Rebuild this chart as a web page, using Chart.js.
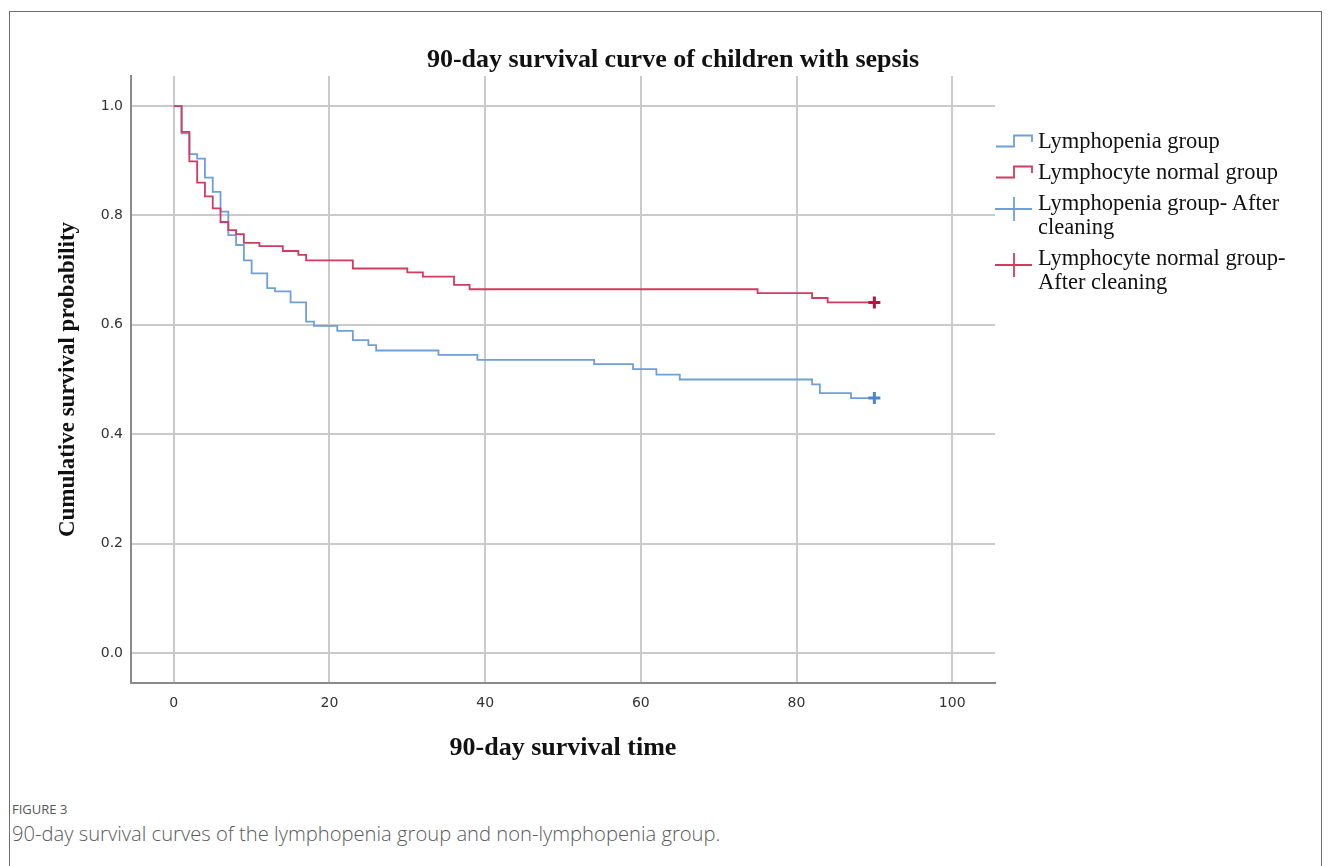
<!DOCTYPE html>
<html>
<head>
<meta charset="utf-8">
<script src="https://cdn.jsdelivr.net/npm/chart.js@4.4.1/dist/chart.umd.min.js"></script>
<style>
  html, body { margin: 0; padding: 0; background: #fff; }
  body { width: 1331px; height: 866px; position: relative; overflow: hidden; }
  .frame { position: absolute; left: 9px; top: 11px; width: 1313px; height: 900px; border: 1px solid #6e6e6e; box-sizing: border-box; }
  #wrap { position: absolute; left: 0; top: 0; width: 1331px; height: 790px; }
  .title { position: absolute; left: 323px; width: 700px; top: 44px; text-align: center;
           font: bold 26px "Liberation Serif", serif; color: #111; }
  .legend { position: absolute; left: 995px; top: 0; font: 22.5px "Liberation Serif", serif; color: #111; }
  .item { position: absolute; left: 0; white-space: nowrap; line-height: 24px; }
  .item svg { position: absolute; left: 0; }
  .item span { position: absolute; left: 43px; }
  .fig { position: absolute; left: 12px; top: 800px; font: 13px "Open Sans", sans-serif; color: #555; }
  .cap { position: absolute; left: 12px; top: 819px; font: 300 20.2px "Open Sans", sans-serif; color: #5a5a5a; }
</style>
</head>
<body>
<div class="frame"></div>
<div id="wrap"><canvas id="km"></canvas></div>
<div class="title">90-day survival curve of children with sepsis</div>
<div class="legend" id="legend"></div>
<div class="fig">FIGURE 3</div>
<div class="cap">90-day survival curves of the lymphopenia group and non-lymphopenia group.</div>
<script>
const lymphopeniaTimes = [0, 1, 2, 3, 4, 5, 6, 7, 8, 9, 10, 12, 13, 15, 17, 18, 21, 23, 25, 26, 34, 39, 54, 59, 62, 65, 82, 83, 87, 90];
const lymphopeniaSurv = [1.0, 0.950, 0.912, 0.904, 0.869, 0.843, 0.807, 0.764, 0.746, 0.718, 0.694, 0.667, 0.661, 0.641, 0.606, 0.598, 0.589, 0.572, 0.563, 0.553, 0.545, 0.536, 0.528, 0.519, 0.509, 0.500, 0.491, 0.475, 0.466, 0.466];

const normalTimes = [0, 1, 2, 3, 4, 5, 6, 7, 8, 9, 11, 14, 16, 17, 23, 30, 32, 36, 38, 75, 82, 84, 90];
const normalSurv = [1.0, 0.953, 0.899, 0.860, 0.835, 0.813, 0.788, 0.773, 0.766, 0.750, 0.744, 0.735, 0.728, 0.718, 0.703, 0.696, 0.688, 0.673, 0.665, 0.658, 0.649, 0.641, 0.641];

// censored points at end of follow-up
const censorTime = [90];
const lymphopeniaCensor = [0.466];
const normalCensor = [0.641];

const legendLabels = [
    ['Lymphopenia group'],
    ['Lymphocyte normal group'],
    ['Lymphopenia group- After', 'cleaning'],
    ['Lymphocyte normal group-', 'After cleaning']
];

const colors = {
    blue: '#6d9fdb',
    red: '#d23a5f',
    blueMark: '#4a86c9',
    redMark: '#b8123f',
    grid: '#cacaca',
    axis: '#8a8a8a',
    tick: '#333333'
};

const toPoints = (xs, ys) => xs.map((x, i) => ({ x: x, y: ys[i] }));

// html legend with the step / cross icons
const stepIcon = (c, top) => `<svg style="top:${top}px" width="40" height="20" viewBox="0 0 40 20"><path d="M1 15.5 H19 V4.5 H37 V11" fill="none" stroke="${c}" stroke-width="1.8"/></svg>`;
const crossIcon = (c, top) => `<svg style="top:${top}px" width="40" height="26" viewBox="0 0 40 26"><path d="M0 13 H37 M19 1 V25" fill="none" stroke="${c}" stroke-width="1.8"/></svg>`;
const legendRows = [
    { top: 129, icon: stepIcon(colors.blue, 2) },
    { top: 160, icon: stepIcon(colors.red, 2) },
    { top: 191, icon: crossIcon(colors.blue, 5) },
    { top: 246, icon: crossIcon(colors.red, 6) }
];
const legendEl = document.getElementById('legend');
legendRows.forEach((row, i) => {
    const div = document.createElement('div');
    div.className = 'item';
    div.style.top = row.top + 'px';
    div.innerHTML = row.icon + `<span>${legendLabels[i].join('<br>')}</span>`;
    legendEl.appendChild(div);
});

const ctx = document.getElementById('km').getContext('2d');
new Chart(ctx, {
    type: 'line',
    data: {
        datasets: [
            {
                label: 'Lymphocyte normal group- After cleaning',
                data: toPoints(censorTime, normalCensor),
                showLine: false,
                pointStyle: 'cross',
                pointRadius: 6,
                pointBorderWidth: 3,
                borderColor: colors.redMark,
                backgroundColor: colors.redMark,
                order: 0
            },
            {
                label: 'Lymphopenia group- After cleaning',
                data: toPoints(censorTime, lymphopeniaCensor),
                showLine: false,
                pointStyle: 'cross',
                pointRadius: 6,
                pointBorderWidth: 3,
                borderColor: colors.blueMark,
                backgroundColor: colors.blueMark,
                order: 0
            },
            {
                label: 'Lymphocyte normal group',
                data: toPoints(normalTimes, normalSurv),
                stepped: true,
                borderColor: colors.red,
                borderWidth: 1.8,
                pointRadius: 0,
                fill: false,
                order: 1
            },
            {
                label: 'Lymphopenia group',
                data: toPoints(lymphopeniaTimes, lymphopeniaSurv),
                stepped: true,
                borderColor: colors.blue,
                borderWidth: 1.8,
                pointRadius: 0,
                fill: false,
                order: 2
            }
        ]
    },
    options: {
        responsive: true,
        maintainAspectRatio: false,
        animation: false,
        layout: {
            padding: { left: 50, right: 336, top: 76, bottom: 22 }
        },
        plugins: {
            legend: { display: false },
            title: { display: false },
            tooltip: { enabled: false }
        },
        scales: {
            x: {
                type: 'linear',
                min: -5.5,
                max: 105.5,
                afterFit: (scale) => { scale.height = 85; },
                ticks: {
                    stepSize: 20,
                    includeBounds: false,
                    padding: 12,
                    color: colors.tick,
                    font: { family: 'DejaVu Sans', size: 14 }
                },
                grid: { color: colors.grid, lineWidth: 2, drawTicks: false },
                border: { color: colors.axis, width: 2 },
                title: {
                    display: true,
                    text: '90-day survival time',
                    color: '#111',
                    font: { family: 'Liberation Serif', size: 26, weight: 'bold' },
                    padding: { top: 4, bottom: 4 }
                }
            },
            y: {
                min: -0.055,
                max: 1.055,
                afterFit: (scale) => { scale.width = 81; },
                ticks: {
                    stepSize: 0.2,
                    includeBounds: false,
                    padding: 8,
                    color: colors.tick,
                    font: { family: 'DejaVu Sans', size: 14 },
                    callback: (v) => v.toFixed(1)
                },
                grid: { color: colors.grid, lineWidth: 2, drawTicks: false },
                border: { color: colors.axis, width: 2 },
                title: {
                    display: true,
                    text: 'Cumulative survival probability',
                    color: '#111',
                    font: { family: 'Liberation Serif', size: 23, weight: 'bold' },
                    padding: { top: 4, bottom: 4 }
                }
            }
        }
    }
});
</script>
</body>
</html>
